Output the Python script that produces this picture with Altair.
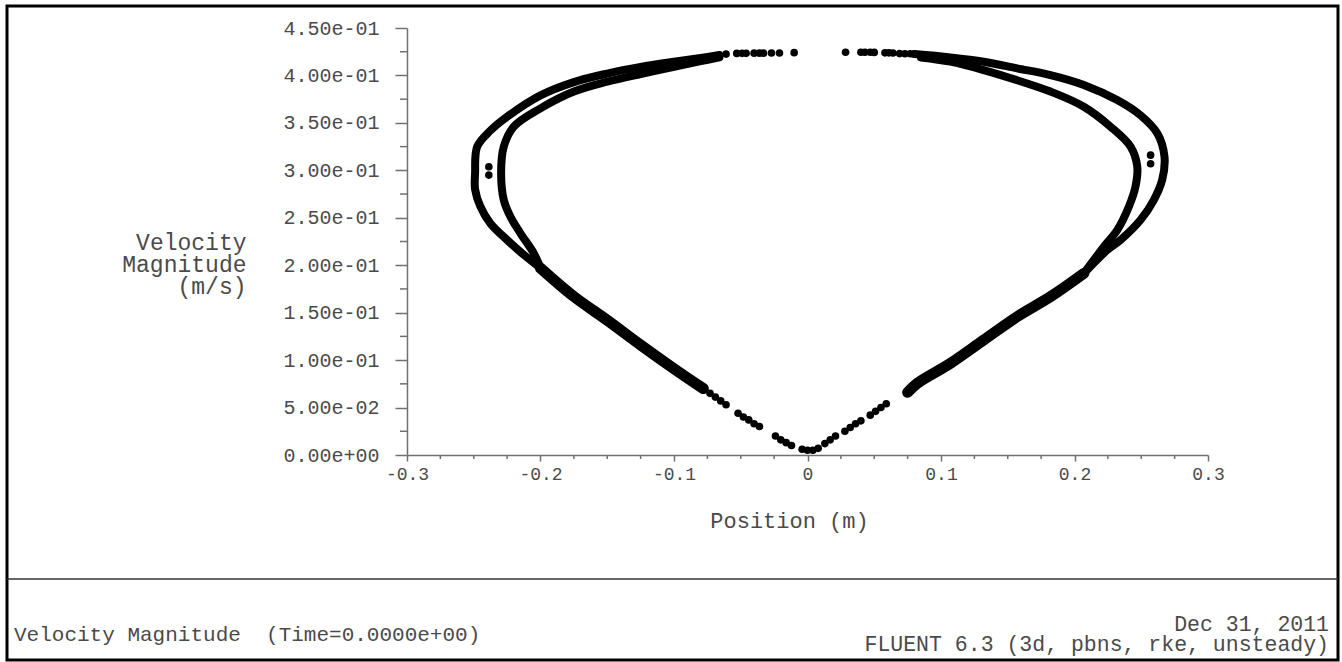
import json

import altair as alt
import pandas as pd

# ---- particle tracks: Position (m) vs Velocity Magnitude (m/s) ----
# dense stretches are traced as thick polylines, sparse stretches as single dots

# shared lower-left branch (from the bottom up to where the two loops split)
left_lower_x = [-0.078, -0.100, -0.125, -0.150, -0.175, -0.200]
left_lower_y = [0.070, 0.091, 0.116, 0.142, 0.167, 0.197]

# outer loop, left half
left_outer_x = [-0.200, -0.2125, -0.225, -0.2375, -0.245, -0.249, -0.249, -0.2474,
                -0.2375, -0.225, -0.200, -0.175, -0.150, -0.125, -0.100, -0.080, -0.066]
left_outer_y = [0.197, 0.211, 0.2266, 0.244, 0.2617, 0.280, 0.297, 0.325,
                0.342, 0.3565, 0.379, 0.393, 0.402, 0.409, 0.4145, 0.4185, 0.4215]

# inner loop, left half
left_inner_x = [-0.200, -0.205, -0.215, -0.2225, -0.2275, -0.2295, -0.2275, -0.220,
                -0.200, -0.175, -0.150, -0.125, -0.100, -0.080, -0.066]
left_inner_y = [0.197, 0.2125, 0.2336, 0.251, 0.2687, 0.297, 0.325, 0.346,
                0.3653, 0.383, 0.3934, 0.4015, 0.409, 0.415, 0.419]

# shared lower-right branch
right_lower_x = [0.075, 0.0822, 0.107, 0.132, 0.157, 0.182, 0.207]
right_lower_y = [0.066, 0.0755, 0.0966, 0.1212, 0.1457, 0.1668, 0.1914]

# outer loop, right half
right_outer_x = [0.080, 0.107, 0.132, 0.157, 0.182, 0.207, 0.232, 0.2494, 0.262,
                 0.2674, 0.2657, 0.2594, 0.2494, 0.2345, 0.2245, 0.207]
right_outer_y = [0.4225, 0.419, 0.4145, 0.4075, 0.4004, 0.390, 0.374, 0.358, 0.339,
                 0.3144, 0.290, 0.2687, 0.2476, 0.2266, 0.216, 0.1914]

# inner loop, right half
right_inner_x = [0.085, 0.107, 0.132, 0.157, 0.182, 0.207, 0.227, 0.242, 0.247,
                 0.2457, 0.2407, 0.232, 0.222, 0.207]
right_inner_y = [0.419, 0.4145, 0.4057, 0.395, 0.383, 0.367, 0.346, 0.325, 0.304,
                 0.283, 0.2617, 0.237, 0.2195, 0.1914]

# sparse particles near the apex
top_dots_x = [-0.061, -0.053, -0.049, -0.046, -0.040, -0.036, -0.033, -0.027, -0.021,
              -0.010, 0.0285, 0.040, 0.043, 0.047, 0.050, 0.058, 0.061, 0.064, 0.069,
              0.073, 0.077]
top_dots_y = [0.4225, 0.4232, 0.4233, 0.4233, 0.4235, 0.4235, 0.4235, 0.4237, 0.4237,
              0.4240, 0.4245, 0.4245, 0.4245, 0.4245, 0.4243, 0.4238, 0.4238, 0.4237,
              0.4230, 0.4229, 0.4228]

# sparse particles near the origin, gathered in short clusters
bottom_dots_x = [-0.073, -0.069, -0.065, -0.061,
                 -0.052, -0.048, -0.044, -0.040, -0.036,
                 -0.024, -0.020, -0.016, -0.012,
                 -0.004, 0.000, 0.004, 0.008,
                 0.013, 0.017, 0.021,
                 0.028, 0.032, 0.036, 0.040,
                 0.047, 0.051, 0.055, 0.059]
bottom_dots_y = [0.065, 0.061, 0.057, 0.053,
                 0.044, 0.040, 0.037, 0.033, 0.030,
                 0.020, 0.016, 0.013, 0.010,
                 0.006, 0.005, 0.005, 0.007,
                 0.012, 0.016, 0.020,
                 0.025, 0.029, 0.033, 0.036,
                 0.042, 0.046, 0.050, 0.054]

# isolated particles between the two loops
stray_dots_x = [-0.2387, -0.2387, 0.257, 0.257]
stray_dots_y = [0.3038, 0.295, 0.316, 0.307]

# axis ticks and their labels
x_ticks = [-0.3, -0.2, -0.1, 0.0, 0.1, 0.2, 0.3]
x_tick_labels = ["-0.3", "-0.2", "-0.1", "0", "0.1", "0.2", "0.3"]
x_minor = [-0.275, -0.25, -0.225, -0.175, -0.15, -0.125, -0.075, -0.05, -0.025,
           0.025, 0.05, 0.075, 0.125, 0.15, 0.175, 0.225, 0.25, 0.275]
y_ticks = [0.0, 0.05, 0.10, 0.15, 0.20, 0.25, 0.30, 0.35, 0.40, 0.45]
y_tick_labels = ["0.00e+00", "5.00e-02", "1.00e-01", "1.50e-01", "2.00e-01",
                 "2.50e-01", "3.00e-01", "3.50e-01", "4.00e-01", "4.50e-01"]
y_minor = [0.025, 0.075, 0.125, 0.175, 0.225, 0.275, 0.325, 0.375, 0.425]

FONT = "Liberation Mono"
AXIS_GREY = "#707070"
TEXT_GREY = "#4a4a4a"
W, H = 801, 427
PAD = {"left": 407, "top": 28, "right": 134, "bottom": 207}


def frame(name, xs, ys):
    return pd.DataFrame({"x": xs, "y": ys, "curve": name, "i": list(range(len(xs)))})


loops = pd.concat([
    frame("left outer", left_outer_x, left_outer_y),
    frame("left inner", left_inner_x, left_inner_y),
    frame("right outer", right_outer_x, right_outer_y),
    frame("right inner", right_inner_x, right_inner_y),
], ignore_index=True)

branches = pd.concat([
    frame("left lower", left_lower_x, left_lower_y),
    frame("right lower", right_lower_x, right_lower_y),
], ignore_index=True)

dots = pd.concat([
    frame("top", top_dots_x, top_dots_y),
    frame("bottom", bottom_dots_x, bottom_dots_y),
    frame("stray", stray_dots_x, stray_dots_y),
], ignore_index=True)

x_scale = alt.Scale(domain=[-0.3, 0.3], nice=False, zero=False)
y_scale = alt.Scale(domain=[0, 0.45], nice=False, zero=False)

x_axis = alt.Axis(
    values=x_ticks,
    labelExpr=f"{json.dumps(x_tick_labels)}[round(datum.value * 10) + 3]",
    grid=False, tickSize=6, tickColor=AXIS_GREY, tickWidth=1.5,
    domainColor=AXIS_GREY, domainWidth=1.5,
    labelFont=FONT, labelFontSize=18, labelColor=TEXT_GREY, labelPadding=4,
    labelFlush=False, labelOverlap=False,
    title="Position (m)", titleFont=FONT, titleFontSize=22, titleFontWeight="normal",
    titleColor=TEXT_GREY, titleX=382, titleY=65, titleAlign="center",
    titleBaseline="middle",
)
y_axis = alt.Axis(
    values=y_ticks,
    labelExpr=f"{json.dumps(y_tick_labels)}[round(datum.value / 0.05)]",
    grid=False, tickSize=12, tickColor=AXIS_GREY, tickWidth=1.5,
    domainColor=AXIS_GREY, domainWidth=1.5,
    labelFont=FONT, labelFontSize=20, labelColor=TEXT_GREY, labelPadding=16,
    labelFlush=False, labelOverlap=False,
    title=["Velocity", "Magnitude", "(m/s)"], titleFont=FONT, titleFontSize=23,
    titleFontWeight="normal", titleColor=TEXT_GREY, titleAngle=0,
    titleAlign="right", titleBaseline="middle", titleLineHeight=22,
    titleX=-161, titleY=214,
)

# the layer that owns both axes
loop_lines = alt.Chart(loops).mark_line(
    color="black", strokeWidth=8, strokeCap="round", strokeJoin="round",
    interpolate="catmull-rom",
).encode(
    x=alt.X("x:Q", scale=x_scale, axis=x_axis),
    y=alt.Y("y:Q", scale=y_scale, axis=y_axis),
    detail="curve:N",
    order="i:Q",
)

branch_lines = alt.Chart(branches).mark_line(
    color="black", strokeWidth=11, strokeCap="round", strokeJoin="round",
    interpolate="catmull-rom",
).encode(
    x=alt.X("x:Q", scale=x_scale),
    y=alt.Y("y:Q", scale=y_scale),
    detail="curve:N",
    order="i:Q",
)

particles = alt.Chart(dots).mark_circle(color="black", size=58, opacity=1).encode(
    x=alt.X("x:Q", scale=x_scale),
    y=alt.Y("y:Q", scale=y_scale),
)

# minor ticks
y_minor_ticks = alt.Chart(pd.DataFrame({"y": y_minor})).mark_rule(
    color=AXIS_GREY, strokeWidth=1.5
).encode(
    y=alt.Y("y:Q", scale=y_scale),
    x=alt.value(-7), x2=alt.value(0),
)
x_minor_ticks = alt.Chart(pd.DataFrame({"x": x_minor})).mark_rule(
    color=AXIS_GREY, strokeWidth=1.5
).encode(
    x=alt.X("x:Q", scale=x_scale),
    y=alt.value(H), y2=alt.value(H + 4),
)

one_row = alt.Data(values=[{"k": 0}])

# frame around the whole figure and the caption box
border = alt.Chart(one_row).mark_rect(
    fillOpacity=0, stroke="black", strokeWidth=3
).encode(
    x=alt.value(-400), x2=alt.value(931), y=alt.value(-22), y2=alt.value(632),
)
separator = alt.Chart(one_row).mark_rule(color="#333333", strokeWidth=1.5).encode(
    x=alt.value(-400), x2=alt.value(931), y=alt.value(551),
)


def caption(text, x, y, align, size):
    return alt.Chart(one_row).mark_text(
        text=text, align=align, baseline="middle", font=FONT, fontSize=size,
        color=TEXT_GREY,
    ).encode(x=alt.value(x), y=alt.value(y))


captions = [
    caption("Velocity Magnitude \u00a0(Time=0.0000e+00)", -393, 607, "left", 21),
    caption("Dec 31, 2011", 922, 597, "right", 21.5),
    caption("FLUENT 6.3 (3d, pbns, rke, unsteady)", 922, 617, "right", 21.5),
]

chart = alt.layer(
    loop_lines, branch_lines, particles, y_minor_ticks, x_minor_ticks,
    border, separator, *captions,
).properties(
    width=W, height=H, padding=PAD,
    autosize=alt.AutoSizeParams(type="none"),
    background="white",
).configure_view(strokeWidth=0)

chart.save("out.html", embed_options={"renderer": "svg", "actions": False})
